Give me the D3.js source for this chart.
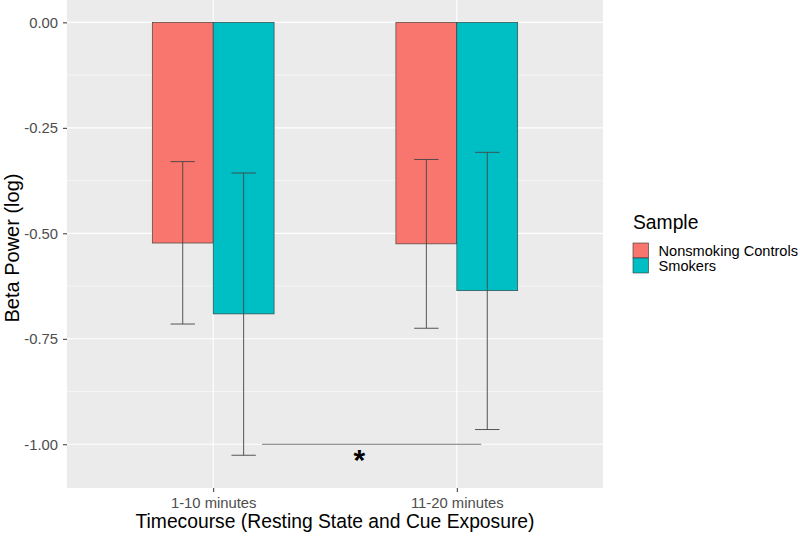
<!DOCTYPE html>
<meta charset="utf-8">
<head>
    <meta charset="utf-8">
    <title>Beta Power by Timecourse</title>
    <script src="https://d3js.org/d3.v7.min.js" charset="utf-8"></script>
    <style>
        html, body { margin: 0; padding: 0; background: #fff; }
        body { font-family: "Liberation Sans", Arial, sans-serif; }
        .grid-major line { stroke: #fff; stroke-width: 1.1px; }
        .grid-minor line { stroke: #fff; stroke-width: 0.55px; }
        .axis text { fill: #4d4d4d; font-size: 14.8px; }
        .axis line { stroke: #333; }
        .axis path { display: none; }
        .title { font-size: 19.3px; fill: #000; }
    </style>
</head>
<body>
<div id="chart"></div>
<script>

// categories on the x axis
var timecourse = ["1-10 minutes", "11-20 minutes"];
// groups (legend)
var samples = ["Nonsmoking Controls", "Smokers"];
var sampleColors = ["#F8766D", "#00BFC4"];

// bar heights (mean beta power, log) per sample, in timecourse order
var controlsMean = [-0.523, -0.525];
var smokersMean  = [-0.691, -0.636];
// error bar limits
var controlsLow  = [-0.715, -0.725];
var controlsHigh = [-0.330, -0.325];
var smokersLow   = [-1.026, -0.965];
var smokersHigh  = [-0.357, -0.308];

// y tick labels
var yTicks = [0, -0.25, -0.5, -0.75, -1.0];

// significance bracket (x in discrete units: 1 = first category)
var sigFrom = 1.2, sigTo = 2.1, sigY = -1.0, sigX = 1.6;

var W = 800, H = 536;
var margin = {top: 0, right: 197, bottom: 48, left: 67};
var width = W - margin.left - margin.right,
    height = H - margin.top - margin.bottom;

var svg = d3.select("#chart").append("svg")
    .attr("width", W).attr("height", H);
var g = svg.append("g")
    .attr("transform", "translate(" + margin.left + "," + margin.top + ")");

// discrete x scale in ggplot style: positions 1..n with 0.6 expansion
var xPos = d3.scaleLinear().domain([0.4, timecourse.length + 0.6]).range([0, width]);
var yScale = d3.scaleLinear().domain([-1.1036, 0.053]).range([height, 0]);

// panel background
g.append("rect").attr("width", width).attr("height", height).attr("fill", "#EBEBEB");

// minor grid
g.append("g").attr("class", "grid-minor")
    .selectAll("line").data([-0.125, -0.375, -0.625, -0.875]).join("line")
    .attr("x1", 0).attr("x2", width)
    .attr("y1", d => yScale(d)).attr("y2", d => yScale(d));

// major grid
var gm = g.append("g").attr("class", "grid-major");
gm.selectAll("line.h").data(yTicks).join("line").attr("class", "h")
    .attr("x1", 0).attr("x2", width)
    .attr("y1", d => yScale(d)).attr("y2", d => yScale(d));
gm.selectAll("line.v").data(timecourse).join("line").attr("class", "v")
    .attr("y1", 0).attr("y2", height)
    .attr("x1", (d, i) => xPos(i + 1)).attr("x2", (d, i) => xPos(i + 1));

// build rows for drawing
var groups = [
    {id: samples[0], mean: controlsMean, low: controlsLow, high: controlsHigh, color: sampleColors[0], off: -0.125},
    {id: samples[1], mean: smokersMean,  low: smokersLow,  high: smokersHigh,  color: sampleColors[1], off: 0.125}
];
var rows = [];
groups.forEach(function(s) {
    timecourse.forEach(function(t, i) {
        rows.push({x: i + 1 + s.off, mean: s.mean[i], low: s.low[i], high: s.high[i], color: s.color});
    });
});

var barW = 0.25;
g.selectAll("rect.bar").data(rows).join("rect").attr("class", "bar")
    .attr("x", d => xPos(d.x - barW / 2))
    .attr("width", d => xPos(d.x + barW / 2) - xPos(d.x - barW / 2))
    .attr("y", d => yScale(0))
    .attr("height", d => yScale(d.mean) - yScale(0))
    .attr("fill", d => d.color)
    .attr("stroke", "#333").attr("stroke-width", 0.6);

// error bars
var capW = 0.1;
var eb = g.selectAll("g.eb").data(rows).join("g").attr("class", "eb")
    .attr("stroke", "#444").attr("stroke-width", 0.9);
eb.append("line")
    .attr("x1", d => xPos(d.x)).attr("x2", d => xPos(d.x))
    .attr("y1", d => yScale(d.high)).attr("y2", d => yScale(d.low));
eb.append("line")
    .attr("x1", d => xPos(d.x - capW / 2)).attr("x2", d => xPos(d.x + capW / 2))
    .attr("y1", d => yScale(d.high)).attr("y2", d => yScale(d.high));
eb.append("line")
    .attr("x1", d => xPos(d.x - capW / 2)).attr("x2", d => xPos(d.x + capW / 2))
    .attr("y1", d => yScale(d.low)).attr("y2", d => yScale(d.low));

// significance line and star
g.append("line")
    .attr("x1", xPos(sigFrom)).attr("x2", xPos(sigTo))
    .attr("y1", yScale(sigY)).attr("y2", yScale(sigY))
    .attr("stroke", "#777").attr("stroke-width", 1.1);
g.append("text")
    .attr("x", xPos(sigX)).attr("y", yScale(sigY) + 26)
    .attr("text-anchor", "middle")
    .style("font-size", "30px").style("font-weight", "bold")
    .text("*");

// axes
var yAxis = g.append("g").attr("class", "axis")
    .call(d3.axisLeft(yScale).tickValues(yTicks).tickFormat(d3.format(".2f")).tickSize(4).tickPadding(5));
yAxis.selectAll("text").text(d => d3.format(".2f")(d).replace("\u2212", "-"));

var xAxis = g.append("g").attr("class", "axis")
    .attr("transform", "translate(0," + height + ")")
    .call(d3.axisBottom(xPos).tickValues([1, 2]).tickFormat(d => timecourse[d - 1]).tickSize(4).tickPadding(5));

// axis titles
svg.append("text").attr("class", "title")
    .attr("x", margin.left + width / 2).attr("y", 528)
    .attr("text-anchor", "middle")
    .text("Timecourse (Resting State and Cue Exposure)");
svg.append("text").attr("class", "title")
    .attr("transform", "translate(19," + (margin.top + height / 2 + 4) + ") rotate(-90)")
    .attr("text-anchor", "middle")
    .style("font-size", "20px")
    .text("Beta Power (log)");

// legend
var lg = svg.append("g").attr("transform", "translate(633,0)");
lg.append("text").attr("class", "title").attr("x", 0).attr("y", 229).text("Sample");
lg.selectAll("rect").data(samples).join("rect")
    .attr("x", 0).attr("y", (d, i) => 243 + i * 15)
    .attr("width", 15.5).attr("height", 15)
    .attr("fill", (d, i) => sampleColors[i])
    .attr("stroke", "#333").attr("stroke-width", 0.6);
lg.selectAll("text.lab").data(samples).join("text").attr("class", "lab")
    .attr("x", 25.5).attr("y", (d, i) => 255.5 + i * 15)
    .style("font-size", "14.6px")
    .text(d => d);

</script>
</body>
</html>
